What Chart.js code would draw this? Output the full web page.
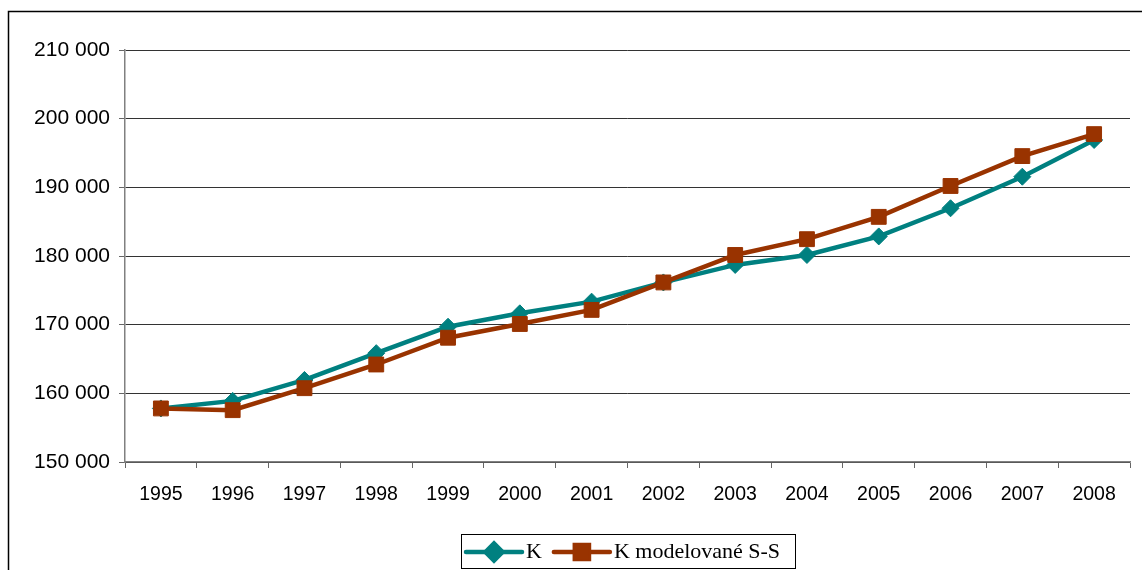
<!DOCTYPE html>
<html>
<head>
<meta charset="utf-8">
<script src="https://cdn.jsdelivr.net/npm/chart.js@4/dist/chart.umd.min.js"></script>
<style>
  html, body { margin: 0; padding: 0; background: #ffffff; }
  #wrap { position: relative; width: 1142px; height: 570px; }
</style>
</head>
<body>
<div id="wrap"><canvas id="c" width="1142" height="570"></canvas></div>
<script>
// Years on the category axis
const years = ['1995','1996','1997','1998','1999','2000','2001','2002','2003','2004','2005','2006','2007','2008'];

// Capital stock K (observed)
const kValues = [157800, 158900, 161950, 165850, 169700, 171650, 173350, 176150, 178700, 180150, 182850, 186950, 191550, 196900];

// Capital stock K modelled (S-S)
const kModelValues = [157800, 157550, 160750, 164200, 168100, 170100, 172150, 176150, 180150, 182450, 185700, 190200, 194550, 197750];

// Y-axis range and step
const yMin = 150000;
const yMax = 210000;
const yStep = 10000;

const seriesLabels = ['K', 'K modelované S-S'];
const teal = '#008080';
const rust = '#993300';

function spaced(v) {
  return String(v).replace(/\B(?=(\d{3})+(?!\d))/g, ' ');
}

// Outer frame around the whole figure
const framePlugin = {
  id: 'frame',
  beforeDraw(chart) {
    const ctx = chart.ctx;
    ctx.save();
    ctx.fillStyle = '#ffffff';
    ctx.fillRect(0, 0, chart.width, chart.height);
    ctx.strokeStyle = '#000000';
    ctx.lineWidth = 1.5;
    ctx.strokeRect(8.5, 11.5, chart.width + 20, chart.height + 20);
    ctx.restore();
  }
};

// Boxed legend with line + marker samples
const boxLegendPlugin = {
  id: 'boxLegend',
  afterDraw(chart) {
    const ctx = chart.ctx;
    const ds = chart.data.datasets;
    ctx.save();
    const bx = 461, by = 534, bw = 334, bh = 34;
    ctx.strokeStyle = '#000000';
    ctx.lineWidth = 1;
    ctx.strokeRect(bx + 0.5, by + 0.5, bw, bh);
    ctx.font = '22px "Liberation Serif", "Times New Roman", serif';
    ctx.textBaseline = 'middle';
    const cy = by + bh / 2 + 1;
    let x = bx + 5;
    ds.forEach((d) => {
      const segW = 56;
      ctx.strokeStyle = d.borderColor;
      ctx.lineWidth = 4.5;
      ctx.lineCap = 'round';
      ctx.beginPath();
      ctx.moveTo(x, cy);
      ctx.lineTo(x + segW, cy);
      ctx.stroke();
      Chart.helpers.drawPoint(ctx, {
        pointStyle: d.pointStyle,
        radius: d.pointStyle === 'rect' ? 10 : 8.5,
        rotation: 0,
        borderWidth: 1
      }, x + segW / 2, cy);
      ctx.fillStyle = d.pointBackgroundColor;
      ctx.fill();
      ctx.fillStyle = '#000000';
      ctx.fillText(d.label, x + segW + 4, cy);
      x += segW + 4 + ctx.measureText(d.label).width + 12;
    });
    ctx.restore();
  }
};

const ctx = document.getElementById('c').getContext('2d');
new Chart(ctx, {
  type: 'line',
  data: {
    labels: years,
    datasets: [
      {
        label: seriesLabels[0],
        data: kValues,
        borderColor: teal,
        backgroundColor: teal,
        pointBackgroundColor: teal,
        pointBorderColor: teal,
        borderWidth: 4.5,
        pointStyle: 'rectRot',
        pointRadius: 8.5,
        pointBorderWidth: 1,
        tension: 0,
        order: 1
      },
      {
        label: seriesLabels[1],
        data: kModelValues,
        borderColor: rust,
        backgroundColor: rust,
        pointBackgroundColor: rust,
        pointBorderColor: rust,
        borderWidth: 4.5,
        pointStyle: 'rect',
        pointRadius: 10.5,
        pointBorderWidth: 1,
        tension: 0,
        order: 0
      }
    ]
  },
  options: {
    responsive: false,
    animation: false,
    layout: { padding: { top: 50, right: 12, left: 0, bottom: 0 } },
    plugins: {
      legend: { display: false },
      tooltip: { enabled: false }
    },
    scales: {
      x: {
        offset: true,
        grid: {
          offset: true,
          drawOnChartArea: false,
          drawTicks: true,
          tickLength: 6,
          tickColor: '#666666'
        },
        border: { color: '#808080', width: 1.5 },
        ticks: {
          color: '#000000',
          font: { family: '"Liberation Sans", Arial, sans-serif', size: 19.5 },
          padding: 15,
          maxRotation: 0,
          autoSkip: false
        },
        afterFit(scale) { scale.height = 108; }
      },
      y: {
        min: yMin,
        max: yMax,
        grid: {
          color: '#333333',
          lineWidth: 1,
          drawTicks: true,
          tickLength: 6,
          tickColor: '#666666'
        },
        border: { color: '#808080', width: 1.5 },
        ticks: {
          stepSize: yStep,
          color: '#000000',
          font: { family: '"Liberation Sans", Arial, sans-serif', size: 21 },
          padding: 9,
          callback: (v) => spaced(v)
        },
        afterFit(scale) { scale.width = 125; }
      }
    }
  },
  plugins: [framePlugin, boxLegendPlugin]
});
</script>
</body>
</html>
